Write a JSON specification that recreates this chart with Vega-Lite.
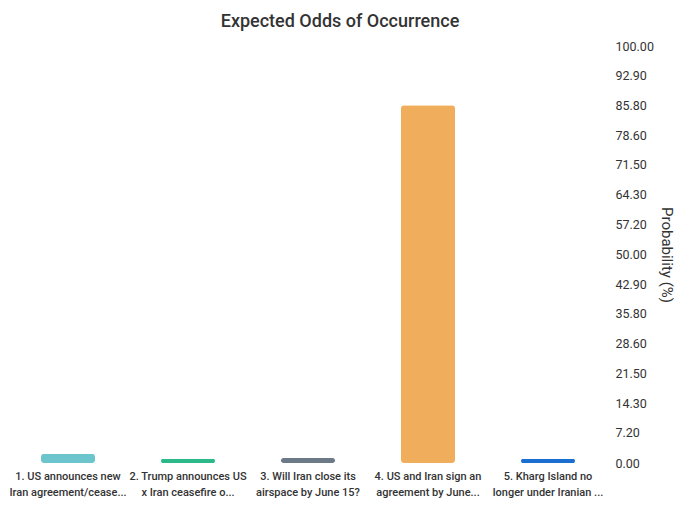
{
  "$schema": "https://vega.github.io/schema/vega-lite/v6.json",
  "autosize": "none",
  "width": 600,
  "height": 417,
  "padding": {"left": 8, "top": 46, "right": 72, "bottom": 47},
  "background": "white",
  "title": {
    "text": "Expected Odds of Occurrence",
    "anchor": "middle",
    "frame": "group",
    "offset": 9,
    "dx": 32,
    "font": "Roboto",
    "fontSize": 18,
    "fontWeight": 500,
    "color": "#333333"
  },
  "data": {
    "values": [
      {"market": "1. US announces new\nIran agreement/cease...", "probability": 2.2, "color": "#6cc4cd"},
      {"market": "2. Trump announces US\nx Iran ceasefire o...", "probability": 1.0, "color": "#2bb98a"},
      {"market": "3. Will Iran close its\nairspace by June 15?", "probability": 1.2, "color": "#6b7a86"},
      {"market": "4. US and Iran sign an\nagreement by June...", "probability": 85.8, "color": "#f0ad5b"},
      {"market": "5. Kharg Island no\nlonger under Iranian ...", "probability": 1.0, "color": "#1a6fd1"}
    ]
  },
  "mark": {"type": "bar", "cornerRadius": 3},
  "encoding": {
    "x": {
      "field": "market",
      "type": "nominal",
      "sort": null,
      "scale": {"paddingInner": 0.55, "paddingOuter": 0.275},
      "axis": {
        "title": null,
        "labelAngle": 0,
        "labelExpr": "split(datum.label, '\\n')",
        "labelFont": "Roboto",
        "labelFontSize": 11,
        "labelFontWeight": 500,
        "labelColor": "#333333",
        "labelLineHeight": 16,
        "labelPadding": 7,
        "labelLimit": 200,
        "domain": false,
        "ticks": false
      }
    },
    "y": {
      "field": "probability",
      "type": "quantitative",
      "scale": {"domain": [0, 100], "nice": false},
      "axis": {
        "orient": "right",
        "title": "Probability (%)",
        "titleAngle": 90,
        "titleFont": "Roboto",
        "titleFontSize": 15,
        "titleFontWeight": "normal",
        "titleColor": "#333333",
        "titlePadding": 5,
        "values": [0, 7.2, 14.3, 21.5, 28.6, 35.8, 42.9, 50, 57.2, 64.3, 71.5, 78.6, 85.8, 92.9, 100],
        "format": ".2f",
        "labelFont": "Roboto",
        "labelFontSize": 12.5,
        "labelColor": "#333333",
        "labelPadding": 7,
        "grid": false,
        "domain": false,
        "ticks": false
      }
    },
    "color": {"field": "color", "type": "nominal", "scale": null, "legend": null}
  },
  "config": {"view": {"stroke": null}}
}
